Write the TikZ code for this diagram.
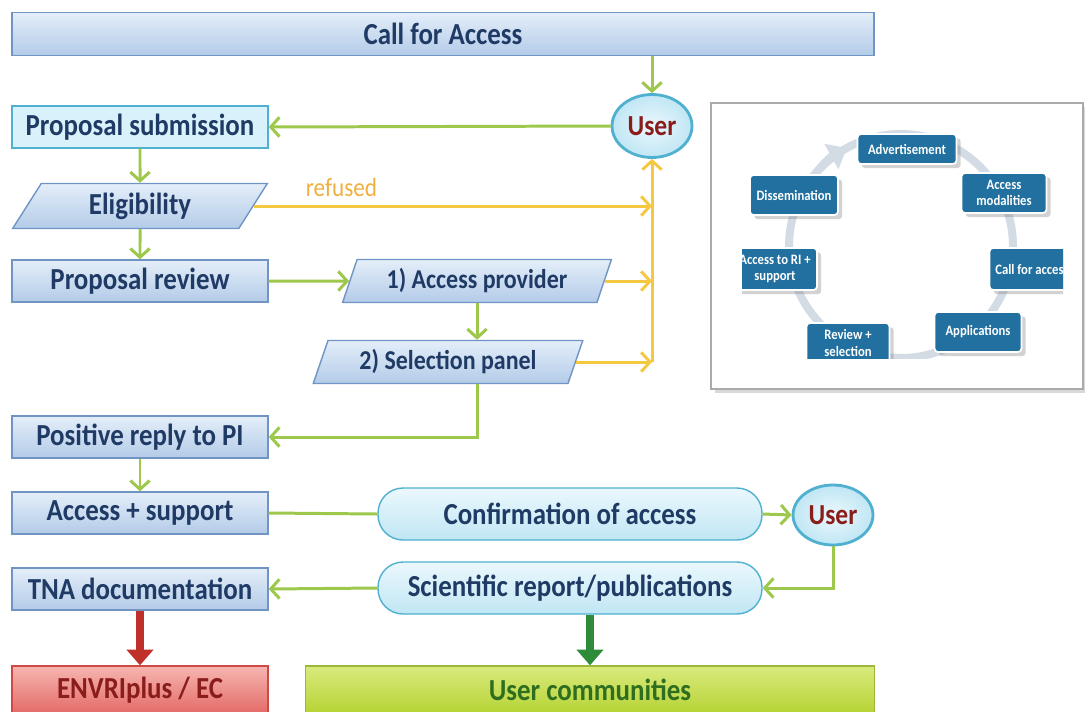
\documentclass[tikz,border=0pt]{standalone}
\usepackage{fontspec}
\setmainfont{Carlito}[FakeStretch=0.88]
\usepackage{tikz}
\usetikzlibrary{shapes.geometric, arrows.meta, shadows}
\usepackage{xcolor}

\definecolor{navy}{HTML}{1F3A64}
\definecolor{userred}{HTML}{8A1C1C}
\definecolor{lime}{HTML}{9DC84B}
\definecolor{gold}{HTML}{F5C842}
\definecolor{refusedtxt}{HTML}{F0B040}
\definecolor{boxline}{HTML}{7095C4}
\definecolor{boxtop}{HTML}{E4EEF9}
\definecolor{boxbot}{HTML}{B3CBE8}
\definecolor{cyanline}{HTML}{4FB0CF}
\definecolor{cyanfill}{HTML}{D8F1FA}
\definecolor{pilltop}{HTML}{EBF8FD}
\definecolor{pillbot}{HTML}{C0E6F4}
\definecolor{cycleblue}{HTML}{21709F}
\definecolor{ringgray}{HTML}{D3DCE5}
\definecolor{envriline}{HTML}{D04A45}
\definecolor{envritop}{HTML}{F6B5B0}
\definecolor{envribot}{HTML}{E36A66}
\definecolor{commline}{HTML}{9BB83A}
\definecolor{commtop}{HTML}{D9EA7C}
\definecolor{commbot}{HTML}{B5D334}
\definecolor{commtext}{HTML}{2F6E1F}
\definecolor{redarrow}{HTML}{C0302A}
\definecolor{greenarrow}{HTML}{2E8B3A}
\definecolor{frame}{HTML}{AAAAAA}

\tikzset{
    flowbox/.style={rectangle, draw=boxline, line width=0.8pt, top color=boxtop, bottom color=boxbot,
        text=navy, font=\bfseries\fontsize{17.4}{20}\selectfont, minimum width=5.12cm, minimum height=0.84cm, inner sep=0pt},
    subbox/.style={flowbox, draw=cyanline, top color=cyanfill, bottom color=cyanfill},
    slantbox/.style={flowbox, trapezium, trapezium left angle=61, trapezium right angle=119, trapezium stretches=true},
    stepbox/.style={slantbox, trapezium left angle=66, trapezium right angle=114,
        font=\bfseries\fontsize{15.5}{18}\selectfont, minimum height=0.86cm},
    pill/.style={flowbox, draw=cyanline, top color=pilltop, bottom color=pillbot, rounded corners=0.5cm,
        minimum width=7.68cm, minimum height=1.04cm},
    userball/.style={ellipse, draw=cyanline, line width=1.6pt, inner color=pilltop, outer color=pillbot,
        text=userred, font=\bfseries\fontsize{16.5}{19}\selectfont, minimum width=1.6cm, minimum height=1.26cm, inner sep=0pt},
    go/.style={draw=lime, line width=1.7pt, -{Straight Barb[length=5pt, width=11pt]}},
    link/.style={draw=lime, line width=1.7pt},
    back/.style={draw=gold, line width=1.7pt, -{Straight Barb[length=5pt, width=11pt]}},
    push/.style={line width=4pt, -{Triangle[length=9pt, width=15pt]}},
    cyclebox/.style={rectangle, rounded corners=2pt, draw=white, line width=1pt, fill=cycleblue, text=white,
        font=\bfseries\fontsize{8.2}{9.2}\selectfont, align=center, drop shadow={opacity=0.35}, inner sep=0pt}
}

\begin{document}
\begin{tikzpicture}[x=0.02cm, y=-0.02cm]
    \clip (0,0) rectangle (1085,711);

    % Top: call and user
    \node[flowbox, minimum width=17.24cm, minimum height=0.86cm] (call) at (443,34) {Call for Access};
    \node[userball] (user) at (652,126) {User};

    % Left column
    \node[subbox] (submit) at (140,127) {Proposal submission};
    \node[slantbox, minimum height=0.9cm] (elig) at (140,206) {Eligibility};
    \node[flowbox] (review) at (140,281) {Proposal review};
    \node[flowbox] (reply) at (140,437) {Positive reply to PI};
    \node[flowbox] (support) at (140,513) {Access + support};
    \node[flowbox] (tna) at (140,589) {TNA documentation};

    % Review steps
    \node[stepbox, minimum width=5.38cm] (provider) at (477,281) {1) Access provider};
    \node[stepbox, minimum width=5.4cm] (panel) at (448,362) {2) Selection panel};

    % Confirmation and reports
    \node[pill] (confirm) at (570,514) {Confirmation of access};
    \node[userball, minimum height=1.2cm] (user2) at (833,515) {User};
    \node[pill] (report) at (570,588) {Scientific report/publications};

    % Bottom targets
    \node[flowbox, draw=envriline, top color=envritop, bottom color=envribot,
        text=userred, minimum height=0.96cm] (envri) at (140,690) {ENVRIplus / EC};
    \node[flowbox, draw=commline, top color=commtop, bottom color=commbot,
        text=commtext, minimum width=11.38cm, minimum height=0.96cm] (community) at (590,690) {User communities};

    % Green flow
    \draw[go] (user |- call.south) -- (user.north);
    \draw[go] (user.west) -- (submit.east);
    \draw[go] (submit.south) -- (elig.north);
    \draw[go] (elig.south) -- (review.north);
    \draw[go] (review.east) -- (provider.west);
    \draw[go] (provider.south) -- (provider.south |- panel.north);
    \draw[go] (provider.south |- panel.south) |- (reply.east);
    \draw[go] (reply.south) -- (support.north);
    \draw[link] (support.east) -- (confirm.west);
    \draw[go] (confirm.east) -- (user2.west);
    \draw[go] (user2.south) |- (report.east);
    \draw[go] (report.west) -- (tna.east);

    % Yellow: back to user
    \coordinate (turn) at (panel.east -| user);
    \draw[back] (elig.east) -- node[pos=0.22, above=1pt, text=refusedtxt, font=\fontsize{15}{18}\selectfont] (refused) {refused} (elig.east -| user);
    \draw[back] (provider.east) -- (provider.east -| user);
    \draw[back] (panel.east) -- (turn);
    \draw[back] (turn) -- (user.south);

    % Thick arrows at the bottom
    \draw[push, draw=redarrow, fill=redarrow] (tna.south) -- (envri.north);
    \draw[push, draw=greenarrow, fill=greenarrow] (report.south -| community.north) -- (community.north);

    % Inset: access cycle
    \node[draw=frame, line width=0.8pt, fill=white, drop shadow={opacity=0.3},
        minimum width=7.44cm, minimum height=5.72cm, inner sep=0pt] (inset) at (897,246) {};
    \begin{scope}
        \clip (742,118) rectangle (1063,358);
        \coordinate (hub) at (901,246);
        \draw[ringgray, line width=0.16cm] (hub) circle[radius=2.24cm];
        \draw[ringgray, line width=0.16cm, -{Triangle[length=10pt, width=16pt]}] (hub) ++(150:2.24cm) arc[start angle=150, end angle=119, radius=2.24cm];

        \node[cyclebox, minimum width=1.98cm, minimum height=0.6cm] (adv) at (907,149) {Advertisement};
        \node[cyclebox, minimum width=1.7cm, minimum height=0.8cm] (modes) at (1004,193) {Access\\modalities};
        \node[cyclebox, minimum width=1.7cm, minimum height=0.84cm] (cfa) at (1032,269) {Call for access};
        \node[cyclebox, minimum width=1.74cm, minimum height=0.8cm] (apps) at (978,332) {Applications};
        \node[cyclebox, minimum width=1.66cm, minimum height=0.8cm] (rev) at (848,343) {Review +\\selection};
        \node[cyclebox, minimum width=1.68cm, minimum height=0.84cm] (ri) at (775,269) {Access to RI +\\support};
        \node[cyclebox, minimum width=1.76cm, minimum height=0.8cm] (diss) at (794,195) {Dissemination};
    \end{scope}

\end{tikzpicture}
\end{document}
